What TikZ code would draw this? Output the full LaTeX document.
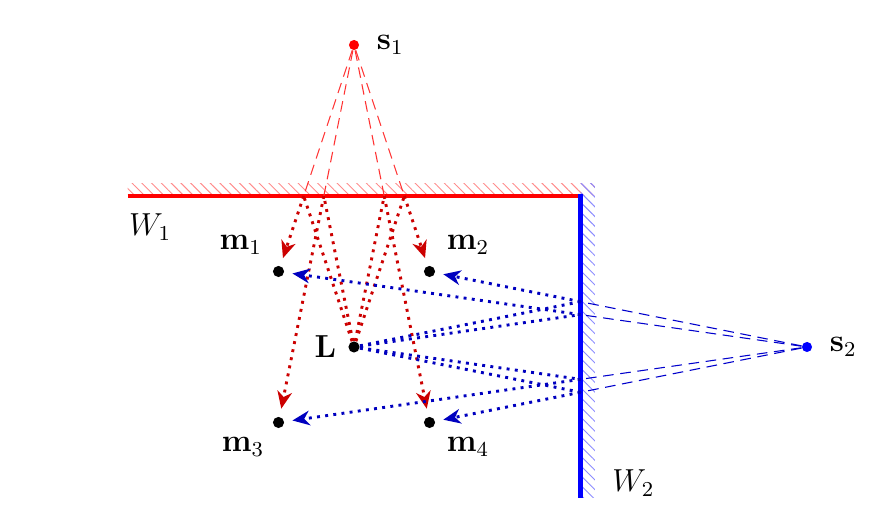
\documentclass[tikz,border=0pt]{standalone}
\usetikzlibrary{patterns,patterns.meta,arrows.meta}
\begin{document}
\begin{tikzpicture}[
  pt/.style={circle,fill=black,inner sep=0pt,minimum size=4.2pt},
  lbl/.style={font=\fontsize{11.5}{13}\selectfont},
  rdash/.style={red!80,line width=0.4pt,dash pattern=on 4pt off 2.5pt},
  bdash/.style={blue!80!black,line width=0.4pt,dash pattern=on 4pt off 2.5pt},
  rdot/.style={red!80!black,line width=1.1pt,dotted,-{Stealth[length=6.5pt,width=5.5pt,inset=2pt,fill=red]},shorten >=3pt},
  bdot/.style={blue!75!black,line width=1.1pt,dotted,-{Stealth[length=6.5pt,width=5.5pt,inset=2pt,fill=blue]},shorten >=3pt},
  rdotn/.style={red!80!black,line width=1.1pt,dotted},
  bdotn/.style={blue!75!black,line width=1.1pt,dotted}
]
\useasboundingbox (-4.689,-2.411) rectangle (6.914,4.596);
% hatches
\fill[pattern={Lines[angle=-45,distance=2.6pt,line width=0.35pt]},pattern color=red!45] (-3,2) rectangle (3.19,2.17);
\fill[pattern={Lines[angle=-45,distance=2.6pt,line width=0.35pt]},pattern color=blue!45] (3,-2) rectangle (3.19,2.17);
% walls
\draw[red,line width=1.6pt] (-3,2) -- (3.02,2);
\draw[blue,line width=1.6pt] (3,2.02) -- (3,-2);
\node[lbl] (w1) at (-2.70,1.59) {$W_1$};
\node[lbl] (w2) at (3.70,-1.80) {$W_2$};
% points
\node[pt,fill=red,minimum size=3.8pt] (s1) at (0,4) {};
\node[pt,fill=blue,minimum size=3.8pt] (s2) at (6,0) {};
\node[pt] (L) at (0,0) {};
\node[pt] (m1) at (-1,1) {};
\node[pt] (m2) at (1,1) {};
\node[pt] (m3) at (-1,-1) {};
\node[pt] (m4) at (1,-1) {};
\node[lbl,anchor=west] (s1l) at (0.18,4) {$\mathbf{s}_1$};
\node[lbl,anchor=west] (s2l) at (6.18,0) {$\mathbf{s}_2$};
\node[lbl] (Ll) at (-0.38,0) {$\mathbf{L}$};
\node[lbl] (m1l) at (-1.5,1.35) {$\mathbf{m}_1$};
\node[lbl] (m2l) at (1.51,1.35) {$\mathbf{m}_2$};
\node[lbl] (m3l) at (-1.47,-1.32) {$\mathbf{m}_3$};
\node[lbl] (m4l) at (1.51,-1.32) {$\mathbf{m}_4$};
% reflection points
\coordinate (p1) at (-0.6667,2);
\coordinate (p3) at (-0.4,2);
\coordinate (p2) at (0.6667,2);
\coordinate (p4) at (0.4,2);
\coordinate (q1) at (3,0.4286);
\coordinate (q2) at (3,0.6);
\coordinate (q3) at (3,-0.4286);
\coordinate (q4) at (3,-0.6);
% virtual rays
\foreach \p in {p1,p2,p3,p4} \draw[rdash] (s1) -- (\p);
\foreach \q in {q1,q2,q3,q4} \draw[bdash] (s2) -- (\q);
% real rays
\foreach \p/\m in {p1/m1,p2/m2,p3/m3,p4/m4}{
  \draw[rdotn] (L) -- (\p);
  \draw[rdot] (\p) -- (\m);
}
\foreach \q/\m in {q1/m1,q2/m2,q3/m3,q4/m4}{
  \draw[bdotn] (L) -- (\q);
  \draw[bdot] (\q) -- (\m);
}
\end{tikzpicture}
\end{document}
